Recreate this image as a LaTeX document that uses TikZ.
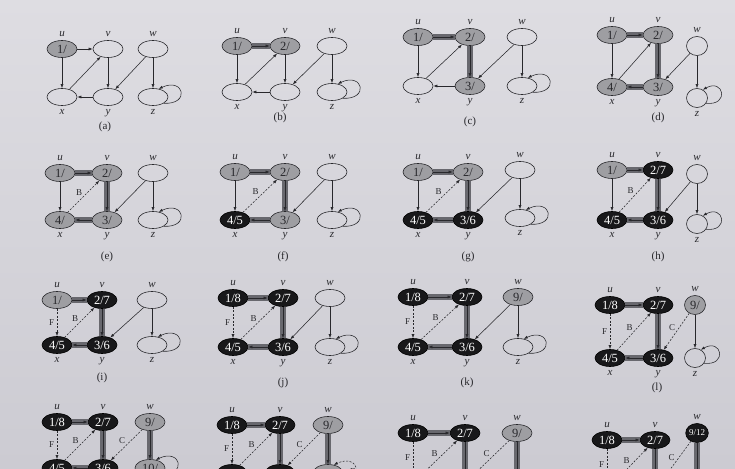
\documentclass[tikz,border=0pt]{standalone}
\usepackage{fontspec}
\setmainfont{Liberation Serif}
\usetikzlibrary{arrows.meta,calc,shapes.geometric}
\definecolor{bgtop}{RGB}{222,221,226}
\definecolor{bgbot}{RGB}{204,203,210}
\definecolor{gfill}{RGB}{158,158,162}
\definecolor{bfill}{RGB}{24,24,26}
\definecolor{band}{RGB}{104,104,110}
\definecolor{ink}{RGB}{40,40,44}
\tikzset{
  vtx/.style={ellipse, draw=ink, line width=0.6pt, minimum width=30pt, minimum height=17pt,
    inner sep=0pt, font=\fontsize{12.5}{12.5}\selectfont, text=ink},
  wht/.style={vtx},
  gry/.style={vtx, fill=gfill},
  blk/.style={vtx, fill=bfill, draw=black, text=white},
  Su/.style={wht}, Sv/.style={wht}, Sw/.style={wht},
  Sx/.style={wht}, Sy/.style={wht}, Sz/.style={wht},
  Lx/.style={label={[vlab]below:x}}, Ly/.style={label={[vlab]below:y}}, Lz/.style={label={[vlab]below:z}},
  nolow/.style={Lx/.style={}, Ly/.style={}, Lz/.style={}},
  Nwz/.style={},
  narrow/.style={Nwz/.style={minimum width=21pt, minimum height=19pt}},
  edg/.style={draw=ink, line width=0.55pt, -{Latex[length=4pt,width=3pt]}},
  eplain/.style={edg},
  etree/.style={edg, preaction={draw=band, line width=5.5pt, arrows=-}},
  edash/.style={edg, dash pattern=on 2pt off 1.5pt},
  Euv/.style={eplain}, Eux/.style={eplain}, Exv/.style={eplain}, Evy/.style={eplain},
  Eyx/.style={eplain}, Ewy/.style={eplain}, Ewz/.style={eplain}, Ezz/.style={eplain},
  vlab/.style={font=\fontsize{11}{11}\selectfont\itshape, text=ink},
  capt/.style={font=\fontsize{11}{11}\selectfont, text=ink},
  elab/.style={font=\fontsize{9}{9}\selectfont, text=ink, inner sep=1pt},
}
\newcommand\panel[6]{%
  \node[Su, label={[vlab]above:u}] (u) at (#1,#2) {\tu};
  \node[Sv, label={[vlab]above:v}] (v) at ({#1+#3},#2) {\tv};
  \node[Sw, Nwz, label={[vlab]above:w}] (w) at ({#1+#3+#4},{#2+#6}) {\tw};
  \node[Sx, Lx] (x) at (#1,{#2+#5}) {\tx};
  \node[Sy, Ly] (y) at ({#1+#3},{#2+#5}) {\ty};
  \node[Sz, Nwz, Lz] (z) at ({#1+#3+#4},{#2+#5+#6}) {\tz};
  \draw[Euv] (u) -- (v);
  \ifx\lux\empty \draw[Eux] (u) -- (x); \else \draw[Eux] (u) -- node[elab, left=1.5pt] {\lux} (x); \fi
  \ifx\lxv\empty \draw[Exv] (x) -- (v); \else \draw[Exv] (x) -- node[elab, anchor=south east] {\lxv} (v); \fi
  \draw[Evy] (v) -- (y);
  \draw[Eyx] (y) -- (x);
  \ifx\lwy\empty \draw[Ewy] (w) -- (y); \else \draw[Ewy] (w) -- node[elab, anchor=south east] {\lwy} (y); \fi
  \draw[Ewz] (w) -- (z);
  \draw[Ezz] (z.-30) .. controls ($(z.east)+(22,8)$) and ($(z.east)+(16,-20)$) .. (z.55);
}
\begin{document}
\begin{tikzpicture}[x=1pt,y=-1pt]
\useasboundingbox (0,0) rectangle (735,468);
\clip (0,0) rectangle (735,468);
\fill[top color=bgtop, bottom color=bgbot] (0,0) rectangle (735,468);
\def\tu{}\def\tv{}\def\tw{}\def\tx{}\def\ty{}\def\tz{}
\def\lux{}\def\lxv{}\def\lwy{}
% (a)
\begin{scope}[Su/.style=gry]
  \def\tu{1/}
  \panel{62}{49}{46}{45}{48}{0}
  \node[capt] (capa) at (105,127) {(a)};
\end{scope}
% (b)
\begin{scope}[Su/.style=gry, Sv/.style=gry, Euv/.style=etree]
  \def\tu{1/}\def\tv{2/}
  \panel{237}{46}{48}{47}{46}{0}
  \node[capt] (capb) at (280,118) {(b)};
\end{scope}
% (c)
\begin{scope}[Su/.style=gry, Sv/.style=gry, Sy/.style=gry, Euv/.style=etree, Evy/.style=etree]
  \def\tu{1/}\def\tv{2/}\def\ty{3/}
  \panel{418}{37}{52}{52}{49}{0}
  \node[capt] (capc) at (470,122) {(c)};
\end{scope}
% (d)
\begin{scope}[narrow, Su/.style=gry, Sv/.style=gry, Sy/.style=gry, Sx/.style=gry,
    Euv/.style=etree, Evy/.style=etree, Eyx/.style=etree]
  \def\tu{1/}\def\tv{2/}\def\ty{3/}\def\tx{4/}
  \panel{612}{35}{46}{39}{52}{11}
  \node[capt] (capd) at (658,118) {(d)};
\end{scope}
% (e)
\begin{scope}[Su/.style=gry, Sv/.style=gry, Sy/.style=gry, Sx/.style=gry,
    Euv/.style=etree, Evy/.style=etree, Eyx/.style=etree, Exv/.style=edash]
  \def\tu{1/}\def\tv{2/}\def\ty{3/}\def\tx{4/}\def\lxv{B}
  \panel{60}{173}{47}{46}{47}{0}
  \node[capt] (cape) at (107,257) {(e)};
\end{scope}
% (f)
\begin{scope}[Su/.style=gry, Sv/.style=gry, Sy/.style=gry, Sx/.style=blk,
    Euv/.style=etree, Evy/.style=etree, Eyx/.style=etree, Exv/.style=edash]
  \def\tu{1/}\def\tv{2/}\def\ty{3/}\def\tx{4/5}\def\lxv{B}
  \panel{235}{172}{50}{47}{48}{0}
  \node[capt] (capf) at (283,257) {(f)};
\end{scope}
% (g)
\begin{scope}[Su/.style=gry, Sv/.style=gry, Sy/.style=blk, Sx/.style=blk,
    Euv/.style=etree, Evy/.style=etree, Eyx/.style=etree, Exv/.style=edash]
  \def\tu{1/}\def\tv{2/}\def\ty{3/6}\def\tx{4/5}\def\lxv{B}
  \panel{418}{172}{50}{52}{48}{-2}
  \node[capt] (capg) at (468,257) {(g)};
\end{scope}
% (h)
\begin{scope}[narrow, Su/.style=gry, Sv/.style=blk, Sy/.style=blk, Sx/.style=blk,
    Euv/.style=etree, Evy/.style=etree, Eyx/.style=etree, Exv/.style=edash]
  \def\tu{1/}\def\tv{2/7}\def\ty{3/6}\def\tx{4/5}\def\lxv{B}
  \panel{612}{170}{46}{39}{50}{4}
  \node[capt] (caph) at (658,257) {(h)};
\end{scope}
% (i)
\begin{scope}[Su/.style=gry, Sv/.style=blk, Sy/.style=blk, Sx/.style=blk,
    Euv/.style=etree, Evy/.style=etree, Eyx/.style=etree, Exv/.style=edash, Eux/.style=edash]
  \def\tu{1/}\def\tv{2/7}\def\ty{3/6}\def\tx{4/5}\def\lxv{B}\def\lux{F}
  \panel{57}{300}{45}{50}{45}{0}
  \node[capt] (capi) at (102,378) {(i)};
\end{scope}
% (j)
\begin{scope}[Su/.style=blk, Sv/.style=blk, Sy/.style=blk, Sx/.style=blk,
    Euv/.style=etree, Evy/.style=etree, Eyx/.style=etree, Exv/.style=edash, Eux/.style=edash]
  \def\tu{1/8}\def\tv{2/7}\def\ty{3/6}\def\tx{4/5}\def\lxv{B}\def\lux{F}
  \panel{233}{298}{50}{47}{49}{0}
  \node[capt] (capj) at (283,383) {(j)};
\end{scope}
% (k)
\begin{scope}[Su/.style=blk, Sv/.style=blk, Sy/.style=blk, Sx/.style=blk, Sw/.style=gry,
    Euv/.style=etree, Evy/.style=etree, Eyx/.style=etree, Exv/.style=edash, Eux/.style=edash]
  \def\tu{1/8}\def\tv{2/7}\def\ty{3/6}\def\tx{4/5}\def\tw{9/}\def\lxv{B}\def\lux{F}
  \panel{413}{297}{54}{51}{50}{0}
  \node[capt] (capk) at (467,383) {(k)};
\end{scope}
% (l)
\begin{scope}[narrow, Su/.style=blk, Sv/.style=blk, Sy/.style=blk, Sx/.style=blk, Sw/.style=gry,
    Euv/.style=etree, Evy/.style=etree, Eyx/.style=etree, Exv/.style=edash, Eux/.style=edash,
    Ewy/.style=edash]
  \def\tu{1/8}\def\tv{2/7}\def\ty{3/6}\def\tx{4/5}\def\tw{9/}\def\lxv{B}\def\lux{F}\def\lwy{C}
  \panel{610}{305}{48}{37}{53}{0}
  \node[capt] (capl) at (657,388) {(l)};
\end{scope}
% (m)
\begin{scope}[nolow, Su/.style=blk, Sv/.style=blk, Sy/.style=blk, Sx/.style=blk, Sw/.style=gry, Sz/.style=gry,
    Euv/.style=etree, Evy/.style=etree, Eyx/.style=etree, Exv/.style=edash, Eux/.style=edash,
    Ewy/.style=edash, Ewz/.style=etree]
  \def\tu{1/8}\def\tv{2/7}\def\ty{3/6}\def\tx{4/5}\def\tw{9/}\def\tz{10/}\def\lxv{B}\def\lux{F}\def\lwy{C}
  \panel{57}{422}{46}{47}{46}{0}
\end{scope}
% (n)
\begin{scope}[nolow, Su/.style=blk, Sv/.style=blk, Sy/.style=blk, Sx/.style=blk, Sw/.style=gry, Sz/.style=gry,
    Euv/.style=etree, Evy/.style=etree, Eyx/.style=etree, Exv/.style=edash, Eux/.style=edash,
    Ewy/.style=edash, Ewz/.style=etree, Ezz/.style=edash]
  \def\tu{1/8}\def\tv{2/7}\def\tw{9/}\def\lxv{B}\def\lux{F}\def\lwy{C}
  \panel{232}{425}{48}{48}{48}{0}
  \node[elab] (lbz) at (353,472) {B};
\end{scope}
% (o)
\begin{scope}[nolow, Su/.style=blk, Sv/.style=blk, Sy/.style=blk, Sx/.style=blk, Sw/.style=gry, Sz/.style=blk,
    Euv/.style=etree, Evy/.style=etree, Eyx/.style=etree, Exv/.style=edash, Eux/.style=edash,
    Ewy/.style=edash, Ewz/.style=etree, Ezz/.style=edash]
  \def\tu{1/8}\def\tv{2/7}\def\tw{9/}\def\lxv{B}\def\lux{F}\def\lwy{C}
  \panel{413}{433}{52}{52}{50}{0}
\end{scope}
% (p)
\begin{scope}[nolow, narrow, Su/.style=blk, Sv/.style=blk, Sy/.style=blk, Sx/.style=blk, Sw/.style=blk, Sz/.style=blk,
    Euv/.style=etree, Evy/.style=etree, Eyx/.style=etree, Exv/.style=edash, Eux/.style=edash,
    Ewy/.style=edash, Ewz/.style=etree, Ezz/.style=edash]
  \def\tu{1/8}\def\tv{2/7}\def\tw{\fontsize{9}{9}\selectfont 9/12}\def\lxv{B}\def\lux{F}\def\lwy{C}
  \panel{607}{440}{48}{42}{50}{-7}
\end{scope}
\end{tikzpicture}
\end{document}
